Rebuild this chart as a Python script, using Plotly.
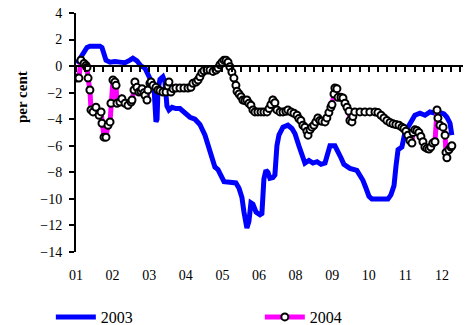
import plotly.graph_objects as go

# Trading-day index (20 days between labelled months) and per cent values
day_2003 = [0.5, 2.2, 4.4, 6.0, 7.6, 10.4, 13.1, 14.2, 15.3, 16.4, 18.6, 21.3, 24.0, 26.8,
            29.5, 31.1, 33.3, 35.5, 37.7, 39.3, 41.0, 42.6, 43.7, 44.3, 44.8, 45.9, 47.5,
            48.6, 49.7, 50.8, 52.5, 54.6, 56.8, 59.6, 62.3, 65.0, 67.7, 70.5, 72.7, 74.3,
            75.9, 77.6, 79.2, 80.9, 84.1, 87.4, 89.1, 90.7, 91.8, 92.9, 93.4, 94.5, 95.6,
            96.7, 98.4, 100.5, 101.6, 102.7, 103.8, 104.9, 106.0, 107.6, 108.7, 109.8,
            110.9, 113.1, 115.8, 118.0, 119.7, 121.8, 123.5, 125.1, 127.3, 129.5, 131.7,
            133.9, 136.1, 137.7, 138.8, 141.5, 143.2, 144.8, 146.4, 149.7, 153.5, 155.2,
            156.8, 158.5, 160.1, 161.7, 166.1, 170.5, 172.1, 173.8, 174.9, 176.0, 178.1,
            179.8, 181.4, 183.0, 185.2, 188.0, 190.7, 193.4, 196.2, 198.9, 201.1, 202.7,
            204.4, 205.4]
val_2003 = [0.2, 0.6, 1.1, 1.4, 1.5, 1.5, 1.5, 1.4, 0.9, 0.45, 0.3, 0.35, 0.3, 0.25,
            0.45, 0.6, 0.4, 0.0, -0.15, -0.7, -1.1, -1.5, -4.2, -4.0, -1.8, -1.0, -0.8,
            -1.2, -3.0, -3.3, -3.1, -3.2, -3.2, -3.5, -3.85, -4.0, -4.4, -5.2, -6.2, -7.0,
            -7.6, -7.8, -8.2, -8.7, -8.75, -8.8, -9.2, -9.9, -11.0, -11.6, -12.2, -11.7,
            -10.3, -10.4, -11.0, -11.2, -11.1, -8.5, -7.85, -8.0, -8.45, -8.4, -8.2, -6.0,
            -5.2, -4.6, -4.45, -4.7, -5.1, -6.0, -6.8, -7.3, -7.1, -7.3, -7.2, -7.4, -7.3,
            -6.5, -6.0, -6.0, -6.4, -6.9, -7.4, -7.7, -7.85, -8.2, -8.6, -9.2, -9.8, -10.0,
            -10.0, -10.0, -9.7, -9.0, -7.5, -6.3, -6.1, -5.0, -4.6, -4.2, -3.7, -3.55,
            -3.7, -3.45, -3.55, -3.5, -3.6, -3.85, -4.3, -5.2]

day_2004 = [0.0, 1.6, 2.7, 4.4, 5.5, 6.0, 6.6, 7.6, 8.2, 9.3, 10.9, 12.6, 13.7, 14.2,
            15.3, 16.4, 17.5, 18.6, 19.1, 20.2, 21.3, 21.9, 22.4, 24.0, 25.1, 26.8, 28.4,
            30.1, 30.6, 31.7, 32.2, 33.3, 34.4, 35.5, 36.1, 37.2, 37.7, 38.8, 39.3, 40.4,
            41.0, 42.1, 43.7, 44.8, 45.9, 47.5, 49.2, 50.3, 50.8, 51.9, 53.0, 54.6, 56.8,
            59.0, 61.2, 62.8, 63.9, 65.6, 66.7, 67.7, 68.8, 69.9, 71.6, 73.2, 74.9, 76.5,
            77.6, 78.7, 79.8, 80.9, 82.0, 83.1, 84.1, 85.2, 86.3, 87.4, 88.0, 89.1, 90.2,
            91.2, 92.3, 93.4, 94.5, 95.6, 96.7, 97.8, 99.4, 101.1, 102.7, 104.4, 105.5,
            106.5, 107.6, 108.7, 109.8, 111.5, 113.1, 114.7, 115.8, 117.5, 119.1, 120.8,
            121.8, 122.9, 124.0, 125.1, 126.2, 126.8, 127.9, 128.9, 130.0, 131.1, 132.2,
            133.3, 134.4, 136.1, 137.1, 138.2, 139.3, 139.9, 141.0, 141.5, 142.6, 143.2,
            144.8, 145.9, 147.0, 148.1, 149.2, 149.7, 150.8, 151.3, 152.4, 155.2, 157.9,
            160.6, 163.4, 165.0, 166.7, 168.3, 169.9, 171.6, 173.2, 174.8, 176.5, 178.1,
            179.2, 180.3, 181.4, 182.5, 183.6, 184.2, 185.2, 186.3, 187.4, 188.5, 189.6,
            190.7, 191.8, 192.9, 193.9, 195.0, 196.2, 197.3, 197.8, 198.9, 200.6, 201.7,
            202.2, 202.7, 203.8, 204.9, 205.4]
val_2004 = [-0.9, -0.9, 0.45, 0.2, 0.05, -0.1, -0.9, -1.8, -3.3, -3.45, -3.1, -3.7, -3.45,
            -4.3, -5.35, -5.35, -4.45, -4.2, -2.8, -1.05, -1.2, -1.45, -2.8, -2.7, -2.45,
            -2.8, -2.95, -2.7, -2.55, -1.8, -1.2, -1.6, -1.95, -1.9, -1.7, -2.0, -2.2,
            -2.55, -1.8, -1.3, -1.2, -1.45, -1.6, -1.8, -1.85, -1.95, -1.95, -1.5, -1.2,
            -1.95, -1.7, -1.65, -1.65, -1.65, -1.65, -1.6, -1.3, -1.2, -1.05, -0.8, -0.5,
            -0.35, -0.3, -0.3, -0.4, -0.3, -0.15, 0.1, 0.3, 0.45, 0.45, 0.3, -0.05, -0.45,
            -0.9, -1.45, -1.9, -2.1, -2.3, -2.55, -2.6, -2.55, -2.8, -2.95, -3.3, -3.45,
            -3.45, -3.45, -3.45, -3.45, -3.2, -2.9, -2.55, -2.75, -3.3, -3.45, -3.45, -3.4,
            -3.3, -3.45, -3.55, -3.7, -3.95, -4.1, -4.45, -4.6, -4.9, -5.2, -4.8, -4.6,
            -4.45, -4.2, -3.9, -4.1, -4.15, -4.2, -3.9, -3.5, -3.1, -2.9, -2.1, -1.65, -1.7,
            -2.35, -2.35, -2.4, -2.8, -3.1, -3.4, -4.1, -4.2, -3.8, -3.45, -3.45, -3.45,
            -3.45, -3.45, -3.5, -3.7, -3.9, -4.1, -4.25, -4.35, -4.4, -4.45, -4.6, -4.7,
            -4.9, -5.2, -5.6, -5.8, -5.0, -4.8, -4.85, -5.0, -5.3, -5.7, -6.1, -6.2, -6.25,
            -6.1, -5.8, -5.7, -3.3, -3.9, -4.45, -4.6, -5.2, -6.5, -6.9, -6.3, -6.1, -6.0]

month_pos = [0, 20, 40, 60, 80, 100, 120, 140, 160, 180, 200]
month_labels = ["01", "02", "03", "04", "05", "06", "08", "09", "10", "11", "12"]
y_ticks = [4, 2, 0, -2, -4, -6, -8, -10, -12, -14]

FONT = "Liberation Serif"
X_RANGE = [0, 211.5]

fig = go.Figure()
fig.add_trace(go.Scatter(
    x=day_2003, y=val_2003, name="2003", mode="lines",
    line=dict(color="#0000FF", width=5), xaxis="x", yaxis="y", legend="legend",
))
fig.add_trace(go.Scatter(
    x=day_2004, y=val_2004, name="2004", mode="lines+markers",
    line=dict(color="#FF00FF", width=5),
    marker=dict(symbol="circle", size=7, color="white",
                line=dict(color="black", width=2)),
    xaxis="x2", yaxis="y", legend="legend2",
))

legend_style = dict(orientation="h", xanchor="left", y=-0.272, yanchor="middle",
                    font=dict(family=FONT, size=16), itemwidth=40,
                    bgcolor="rgba(0,0,0,0)")

fig.update_layout(
    width=466, height=325,
    margin=dict(l=76, r=3, t=13, b=73, autoexpand=False),
    paper_bgcolor="white", plot_bgcolor="white",
    font=dict(family=FONT, size=14, color="black"),
    showlegend=True,
    legend=dict(x=-0.065, **legend_style),
    legend2=dict(x=0.475, **legend_style),
    # Axis crossing at zero, with small tick marks hanging below it
    xaxis=dict(range=X_RANGE, anchor="free", position=14 / 18, showline=True,
               linecolor="black", linewidth=2, ticks="outside", ticklen=5,
               tickwidth=1.5, tickcolor="black", tick0=0, dtick=5,
               showticklabels=False, showgrid=False, zeroline=False),
    # Month labels along the bottom edge
    xaxis2=dict(range=X_RANGE, overlaying="x", anchor="y", side="bottom",
                showline=False, ticks="", tickmode="array", tickvals=month_pos,
                ticktext=month_labels, ticklabelstandoff=13, showgrid=False,
                zeroline=False, tickfont=dict(family=FONT, size=14)),
    yaxis=dict(range=[-14, 4], tickmode="array", tickvals=y_ticks, showline=True,
               linecolor="black", linewidth=2, ticks="outside", ticklen=5,
               tickwidth=1.5, tickcolor="black", showgrid=False, zeroline=False,
               ticklabelstandoff=4, tickfont=dict(family=FONT, size=14)),
)

fig.add_annotation(text="<b>per cent</b>", xref="paper", yref="paper",
                   x=-0.1395, y=0.6485, xanchor="center", yanchor="middle",
                   textangle=-90, showarrow=False,
                   font=dict(family=FONT, size=15))

fig.write_html("out.html")
